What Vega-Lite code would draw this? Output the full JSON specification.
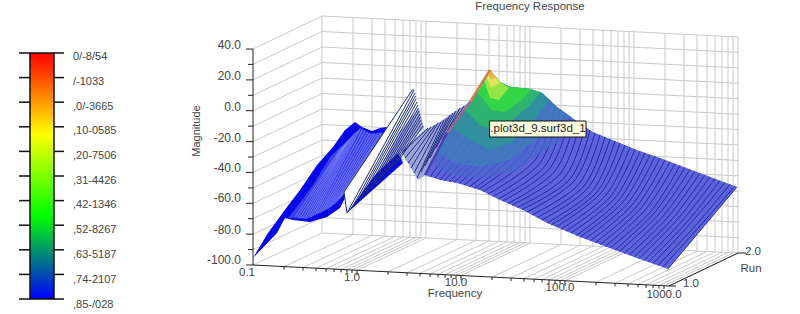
{"$schema":"https://vega.github.io/schema/vega-lite/v6.json","width":800,"height":314,"padding":0,"autosize":"none","background":"white","config":{"view":{"stroke":null}},
"datasets":{
"grid":[
{"x":322,"y":16,"x2":322,"y2":233},{"x":353,"y":17.6,"x2":353,"y2":234.5},{"x":372,"y":18.5,"x2":372,"y2":235.4},{"x":385,"y":19.2,"x2":385,"y2":236},{"x":395,"y":19.7,"x2":395,"y2":236.5},{"x":403,"y":20.1,"x2":403,"y2":236.9},{"x":410,"y":20.4,"x2":410,"y2":237.2},{"x":416,"y":20.7,"x2":416,"y2":237.5},{"x":421,"y":21,"x2":421,"y2":237.8},
{"x":426,"y":21.3,"x2":426,"y2":238},{"x":457,"y":22.8,"x2":457,"y2":239.5},{"x":476,"y":23.8,"x2":476,"y2":240.4},{"x":489,"y":24.4,"x2":489,"y2":241},{"x":499,"y":24.9,"x2":499,"y2":241.5},{"x":507,"y":25.3,"x2":507,"y2":241.9},{"x":514,"y":25.7,"x2":514,"y2":242.2},{"x":520,"y":26,"x2":520,"y2":242.5},{"x":525,"y":26.3,"x2":525,"y2":242.8},
{"x":530,"y":26.5,"x2":530,"y2":243},{"x":561,"y":28.1,"x2":561,"y2":244.5},{"x":580,"y":29,"x2":580,"y2":245.4},{"x":593,"y":29.7,"x2":593,"y2":246},{"x":603,"y":30.2,"x2":603,"y2":246.5},{"x":611,"y":30.6,"x2":611,"y2":246.9},{"x":618,"y":30.9,"x2":618,"y2":247.2},{"x":624,"y":31.3,"x2":624,"y2":247.5},{"x":629,"y":31.5,"x2":629,"y2":247.8},
{"x":634,"y":31.8,"x2":634,"y2":248},{"x":665,"y":33.3,"x2":665,"y2":249.5},{"x":684,"y":34.3,"x2":684,"y2":250.4},{"x":697,"y":34.9,"x2":697,"y2":251},{"x":707,"y":35.4,"x2":707,"y2":251.5},{"x":715,"y":35.8,"x2":715,"y2":251.9},{"x":722,"y":36.2,"x2":722,"y2":252.2},{"x":728,"y":36.5,"x2":728,"y2":252.5},{"x":733,"y":36.8,"x2":733,"y2":252.8},{"x":738,"y":37,"x2":738,"y2":253},
{"x":322,"y":16,"x2":738,"y2":37},{"x":322,"y":31.5,"x2":738,"y2":52.4},{"x":322,"y":47,"x2":738,"y2":67.9},{"x":322,"y":62.5,"x2":738,"y2":83.3},{"x":322,"y":78,"x2":738,"y2":98.7},{"x":322,"y":93.5,"x2":738,"y2":114.2},{"x":322,"y":109,"x2":738,"y2":129.6},{"x":322,"y":124.5,"x2":738,"y2":145},{"x":322,"y":140,"x2":738,"y2":160.4},{"x":322,"y":155.5,"x2":738,"y2":175.9},{"x":322,"y":171,"x2":738,"y2":191.3},{"x":322,"y":186.5,"x2":738,"y2":206.7},{"x":322,"y":202,"x2":738,"y2":222.1},{"x":322,"y":217.5,"x2":738,"y2":237.6},{"x":322,"y":233,"x2":738,"y2":253},
{"x":253,"y":49,"x2":322,"y2":16},{"x":253,"y":64.4,"x2":322,"y2":31.5},{"x":253,"y":79.9,"x2":322,"y2":47},{"x":253,"y":95.3,"x2":322,"y2":62.5},{"x":253,"y":110.7,"x2":322,"y2":78},{"x":253,"y":126.1,"x2":322,"y2":93.5},{"x":253,"y":141.6,"x2":322,"y2":109},{"x":253,"y":157,"x2":322,"y2":124.5},{"x":253,"y":172.4,"x2":322,"y2":140},{"x":253,"y":187.9,"x2":322,"y2":155.5},{"x":253,"y":203.3,"x2":322,"y2":171},{"x":253,"y":218.7,"x2":322,"y2":186.5},{"x":253,"y":234.1,"x2":322,"y2":202},{"x":253,"y":249.6,"x2":322,"y2":217.5},{"x":253,"y":265,"x2":322,"y2":233},
{"x":284,"y":266.6,"x2":353,"y2":234.5},{"x":303,"y":267.5,"x2":372,"y2":235.4},{"x":316,"y":268.2,"x2":385,"y2":236},{"x":326,"y":268.7,"x2":395,"y2":236.5},{"x":334,"y":269.1,"x2":403,"y2":236.9},{"x":341,"y":269.4,"x2":410,"y2":237.2},{"x":347,"y":269.7,"x2":416,"y2":237.5},{"x":352,"y":270,"x2":421,"y2":237.8},
{"x":357,"y":270.3,"x2":426,"y2":238},{"x":388,"y":271.8,"x2":457,"y2":239.5},{"x":407,"y":272.8,"x2":476,"y2":240.4},{"x":420,"y":273.4,"x2":489,"y2":241},{"x":430,"y":273.9,"x2":499,"y2":241.5},{"x":438,"y":274.3,"x2":507,"y2":241.9},{"x":445,"y":274.7,"x2":514,"y2":242.2},{"x":451,"y":275,"x2":520,"y2":242.5},{"x":456,"y":275.3,"x2":525,"y2":242.8},
{"x":461,"y":275.5,"x2":530,"y2":243},{"x":492,"y":277.1,"x2":561,"y2":244.5},{"x":511,"y":278,"x2":580,"y2":245.4},{"x":524,"y":278.7,"x2":593,"y2":246},{"x":534,"y":279.2,"x2":603,"y2":246.5},{"x":542,"y":279.6,"x2":611,"y2":246.9},{"x":549,"y":279.9,"x2":618,"y2":247.2},{"x":555,"y":280.3,"x2":624,"y2":247.5},{"x":560,"y":280.5,"x2":629,"y2":247.8},
{"x":565,"y":280.8,"x2":634,"y2":248},{"x":596,"y":282.3,"x2":665,"y2":249.5},{"x":615,"y":283.3,"x2":684,"y2":250.4},{"x":628,"y":283.9,"x2":697,"y2":251},{"x":638,"y":284.4,"x2":707,"y2":251.5},{"x":646,"y":284.8,"x2":715,"y2":251.9},{"x":653,"y":285.2,"x2":722,"y2":252.2},{"x":659,"y":285.5,"x2":728,"y2":252.5},{"x":664,"y":285.8,"x2":733,"y2":252.8},{"x":669,"y":286,"x2":738,"y2":253}
],
"ticks":[
{"x":253,"y":49,"x2":253,"y2":265},{"x":253,"y":265,"x2":669,"y2":286},{"x":669,"y":286,"x2":738,"y2":253},{"x":738,"y":253,"x2":746,"y2":253},{"x":669,"y":286,"x2":676,"y2":286},
{"x":246,"y":49,"x2":253,"y2":49},{"x":246,"y":79.9,"x2":253,"y2":79.9},{"x":246,"y":110.7,"x2":253,"y2":110.7},{"x":246,"y":141.6,"x2":253,"y2":141.6},{"x":246,"y":172.4,"x2":253,"y2":172.4},{"x":246,"y":203.3,"x2":253,"y2":203.3},{"x":246,"y":234.1,"x2":253,"y2":234.1},{"x":246,"y":265,"x2":253,"y2":265},
{"x":248,"y":64.4,"x2":253,"y2":64.4},{"x":248,"y":95.3,"x2":253,"y2":95.3},{"x":248,"y":126.1,"x2":253,"y2":126.1},{"x":248,"y":157,"x2":253,"y2":157},{"x":248,"y":187.9,"x2":253,"y2":187.9},{"x":248,"y":218.7,"x2":253,"y2":218.7},{"x":248,"y":249.6,"x2":253,"y2":249.6},
{"x":284,"y":266.6,"x2":284,"y2":269.6},{"x":303,"y":267.5,"x2":303,"y2":270.5},{"x":316,"y":268.2,"x2":316,"y2":271.2},{"x":326,"y":268.7,"x2":326,"y2":271.7},{"x":334,"y":269.1,"x2":334,"y2":272.1},{"x":341,"y":269.4,"x2":341,"y2":272.4},{"x":347,"y":269.7,"x2":347,"y2":272.7},{"x":352,"y":270,"x2":352,"y2":273},{"x":357,"y":270.3,"x2":357,"y2":275.3},
{"x":388,"y":271.8,"x2":388,"y2":274.8},{"x":407,"y":272.8,"x2":407,"y2":275.8},{"x":420,"y":273.4,"x2":420,"y2":276.4},{"x":430,"y":273.9,"x2":430,"y2":276.9},{"x":438,"y":274.3,"x2":438,"y2":277.3},{"x":445,"y":274.7,"x2":445,"y2":277.7},{"x":451,"y":275,"x2":451,"y2":278},{"x":456,"y":275.3,"x2":456,"y2":278.3},{"x":461,"y":275.5,"x2":461,"y2":280.5},
{"x":492,"y":277.1,"x2":492,"y2":280.1},{"x":511,"y":278,"x2":511,"y2":281},{"x":524,"y":278.7,"x2":524,"y2":281.7},{"x":534,"y":279.2,"x2":534,"y2":282.2},{"x":542,"y":279.6,"x2":542,"y2":282.6},{"x":549,"y":279.9,"x2":549,"y2":282.9},{"x":555,"y":280.3,"x2":555,"y2":283.3},{"x":560,"y":280.5,"x2":560,"y2":283.5},{"x":565,"y":280.8,"x2":565,"y2":285.8},
{"x":596,"y":282.3,"x2":596,"y2":285.3},{"x":615,"y":283.3,"x2":615,"y2":286.3},{"x":628,"y":283.9,"x2":628,"y2":286.9},{"x":638,"y":284.4,"x2":638,"y2":287.4},{"x":646,"y":284.8,"x2":646,"y2":287.8},{"x":653,"y":285.2,"x2":653,"y2":288.2},{"x":659,"y":285.5,"x2":659,"y2":288.5},{"x":664,"y":285.8,"x2":664,"y2":288.8}
],
"legendTicks":[
{"x":19,"x2":30,"y":53,"y2":53},{"x":54,"x2":64,"y":53,"y2":53},{"x":19,"x2":30,"y":77.6,"y2":77.6},{"x":54,"x2":64,"y":77.6,"y2":77.6},{"x":19,"x2":30,"y":102.2,"y2":102.2},{"x":54,"x2":64,"y":102.2,"y2":102.2},{"x":19,"x2":30,"y":126.8,"y2":126.8},{"x":54,"x2":64,"y":126.8,"y2":126.8},{"x":19,"x2":30,"y":151.4,"y2":151.4},{"x":54,"x2":64,"y":151.4,"y2":151.4},{"x":19,"x2":30,"y":176,"y2":176},{"x":54,"x2":64,"y":176,"y2":176},{"x":19,"x2":30,"y":200.6,"y2":200.6},{"x":54,"x2":64,"y":200.6,"y2":200.6},{"x":19,"x2":30,"y":225.2,"y2":225.2},{"x":54,"x2":64,"y":225.2,"y2":225.2},{"x":19,"x2":30,"y":249.8,"y2":249.8},{"x":54,"x2":64,"y":249.8,"y2":249.8},{"x":19,"x2":30,"y":274.4,"y2":274.4},{"x":54,"x2":64,"y":274.4,"y2":274.4},{"x":19,"x2":30,"y":299,"y2":299},{"x":54,"x2":64,"y":299,"y2":299}
],
"sheets":[
{"sheet":"A","i":0,"x":253,"y":258},{"sheet":"A","i":1,"x":268,"y":233},{"sheet":"A","i":2,"x":287,"y":207},{"sheet":"A","i":3,"x":300,"y":190},{"sheet":"A","i":4,"x":317,"y":165},{"sheet":"A","i":5,"x":333,"y":147},{"sheet":"A","i":6,"x":345,"y":130},{"sheet":"A","i":7,"x":355,"y":122},{"sheet":"A","i":8,"x":362,"y":127},{"sheet":"A","i":9,"x":372,"y":131},{"sheet":"A","i":10,"x":380,"y":128},{"sheet":"A","i":11,"x":387,"y":127},{"sheet":"A","i":12,"x":345,"y":198},{"sheet":"A","i":13,"x":340,"y":208},{"sheet":"A","i":14,"x":327,"y":217},{"sheet":"A","i":15,"x":310,"y":222},{"sheet":"A","i":16,"x":293,"y":220},{"sheet":"A","i":17,"x":285,"y":218},{"sheet":"A","i":18,"x":277,"y":233},
{"sheet":"A2","i":0,"x":288,"y":218},{"sheet":"A2","i":1,"x":307,"y":219},{"sheet":"A2","i":2,"x":330,"y":208},{"sheet":"A2","i":3,"x":343,"y":195},{"sheet":"A2","i":4,"x":383,"y":132},{"sheet":"A2","i":5,"x":372,"y":134},{"sheet":"A2","i":6,"x":360,"y":128},{"sheet":"A2","i":7,"x":350,"y":138},{"sheet":"A2","i":8,"x":330,"y":157},{"sheet":"A2","i":9,"x":313,"y":185},{"sheet":"A2","i":10,"x":300,"y":203},
{"sheet":"B","i":0,"x":344,"y":192},{"sheet":"B","i":1,"x":347,"y":213},{"sheet":"B","i":2,"x":403,"y":163},{"sheet":"B","i":3,"x":400,"y":150},{"sheet":"B","i":4,"x":424,"y":128},{"sheet":"B","i":5,"x":419,"y":108},{"sheet":"B","i":6,"x":413,"y":89},
{"sheet":"B2","i":0,"x":368,"y":190},{"sheet":"B2","i":1,"x":403,"y":163},{"sheet":"B2","i":2,"x":400,"y":150},{"sheet":"B2","i":3,"x":424,"y":128},{"sheet":"B2","i":4,"x":419,"y":108},{"sheet":"B2","i":5,"x":398,"y":134},
{"sheet":"W","i":0,"x":347,"y":213},{"sheet":"W","i":1,"x":403,"y":163},{"sheet":"W","i":2,"x":398,"y":153},{"sheet":"W","i":3,"x":375,"y":175},
{"sheet":"C","i":0,"x":400,"y":150},{"sheet":"C","i":1,"x":418,"y":180},{"sheet":"C","i":2,"x":425,"y":175},{"sheet":"C","i":3,"x":447,"y":133},{"sheet":"C","i":4,"x":470,"y":102},{"sheet":"C","i":5,"x":457,"y":110},{"sheet":"C","i":6,"x":438,"y":123},{"sheet":"C","i":7,"x":425,"y":130},
{"sheet":"R","i":0,"x":490,"y":70},{"sheet":"R","i":1,"x":500,"y":82},{"sheet":"R","i":2,"x":510,"y":87},{"sheet":"R","i":3,"x":530,"y":89},{"sheet":"R","i":4,"x":542,"y":93},{"sheet":"R","i":5,"x":557,"y":107},{"sheet":"R","i":6,"x":575,"y":120},{"sheet":"R","i":7,"x":593,"y":132},{"sheet":"R","i":8,"x":637,"y":150},{"sheet":"R","i":9,"x":660,"y":158},{"sheet":"R","i":10,"x":737,"y":187},{"sheet":"R","i":11,"x":668,"y":269},{"sheet":"R","i":12,"x":623,"y":253},{"sheet":"R","i":13,"x":580,"y":237},{"sheet":"R","i":14,"x":547,"y":223},{"sheet":"R","i":15,"x":523,"y":210},{"sheet":"R","i":16,"x":500,"y":200},{"sheet":"R","i":17,"x":480,"y":190},{"sheet":"R","i":18,"x":457,"y":183},{"sheet":"R","i":19,"x":440,"y":180},{"sheet":"R","i":20,"x":425,"y":175},{"sheet":"R","i":21,"x":447,"y":133},{"sheet":"R","i":22,"x":470,"y":102}
],
"bands":[
{"sheet":"L0","i":0,"x":430,"y":163},{"sheet":"L0","i":1,"x":455,"y":176},{"sheet":"L0","i":2,"x":480,"y":178},{"sheet":"L0","i":3,"x":515,"y":172},{"sheet":"L0","i":4,"x":545,"y":150},{"sheet":"L0","i":5,"x":575,"y":132},{"sheet":"L0","i":6,"x":585,"y":127},{"sheet":"L0","i":7,"x":575,"y":120},{"sheet":"L0","i":8,"x":557,"y":107},{"sheet":"L0","i":9,"x":542,"y":93},{"sheet":"L0","i":10,"x":530,"y":89},{"sheet":"L0","i":11,"x":510,"y":87},{"sheet":"L0","i":12,"x":500,"y":82},{"sheet":"L0","i":13,"x":490,"y":70},{"sheet":"L0","i":14,"x":470,"y":102},{"sheet":"L0","i":15,"x":447,"y":133},
{"sheet":"L1","i":0,"x":436,"y":152},{"sheet":"L1","i":1,"x":455,"y":163},{"sheet":"L1","i":2,"x":480,"y":167},{"sheet":"L1","i":3,"x":510,"y":160},{"sheet":"L1","i":4,"x":530,"y":145},{"sheet":"L1","i":5,"x":555,"y":125},{"sheet":"L1","i":6,"x":570,"y":116},{"sheet":"L1","i":7,"x":557,"y":107},{"sheet":"L1","i":8,"x":542,"y":93},{"sheet":"L1","i":9,"x":530,"y":89},{"sheet":"L1","i":10,"x":510,"y":87},{"sheet":"L1","i":11,"x":500,"y":82},{"sheet":"L1","i":12,"x":490,"y":70},{"sheet":"L1","i":13,"x":470,"y":102},{"sheet":"L1","i":14,"x":447,"y":133},
{"sheet":"L2","i":0,"x":452,"y":128},{"sheet":"L2","i":1,"x":470,"y":140},{"sheet":"L2","i":2,"x":490,"y":150},{"sheet":"L2","i":3,"x":510,"y":143},{"sheet":"L2","i":4,"x":530,"y":125},{"sheet":"L2","i":5,"x":550,"y":100},{"sheet":"L2","i":6,"x":542,"y":93},{"sheet":"L2","i":7,"x":530,"y":89},{"sheet":"L2","i":8,"x":510,"y":87},{"sheet":"L2","i":9,"x":500,"y":82},{"sheet":"L2","i":10,"x":490,"y":70},{"sheet":"L2","i":11,"x":470,"y":102},
{"sheet":"L3","i":0,"x":465,"y":110},{"sheet":"L3","i":1,"x":480,"y":125},{"sheet":"L3","i":2,"x":495,"y":130},{"sheet":"L3","i":3,"x":512,"y":120},{"sheet":"L3","i":4,"x":530,"y":105},{"sheet":"L3","i":5,"x":541,"y":92},{"sheet":"L3","i":6,"x":530,"y":89},{"sheet":"L3","i":7,"x":510,"y":87},{"sheet":"L3","i":8,"x":500,"y":82},{"sheet":"L3","i":9,"x":490,"y":70},
{"sheet":"L4","i":0,"x":477,"y":92},{"sheet":"L4","i":1,"x":492,"y":110},{"sheet":"L4","i":2,"x":505,"y":112},{"sheet":"L4","i":3,"x":522,"y":100},{"sheet":"L4","i":4,"x":532,"y":89},{"sheet":"L4","i":5,"x":510,"y":87},{"sheet":"L4","i":6,"x":500,"y":82},{"sheet":"L4","i":7,"x":490,"y":70},
{"sheet":"L5","i":0,"x":484,"y":80},{"sheet":"L5","i":1,"x":490,"y":98},{"sheet":"L5","i":2,"x":499,"y":100},{"sheet":"L5","i":3,"x":509,"y":88},{"sheet":"L5","i":4,"x":500,"y":82},{"sheet":"L5","i":5,"x":490,"y":70},
{"sheet":"L6","i":0,"x":486,"y":76},{"sheet":"L6","i":1,"x":491,"y":88},{"sheet":"L6","i":2,"x":500,"y":83},{"sheet":"L6","i":3,"x":490,"y":70},
{"sheet":"L7","i":0,"x":488,"y":73},{"sheet":"L7","i":1,"x":491,"y":80},{"sheet":"L7","i":2,"x":496,"y":77},{"sheet":"L7","i":3,"x":490,"y":70}
],
"strokesWhite":[
{"x":295,"y":217,"x2":341,"y2":148},{"x":297.5,"y":217.5,"x2":343.5,"y2":145.5},{"x":300,"y":218,"x2":346,"y2":143},{"x":302.5,"y":218,"x2":348,"y2":140.5},{"x":305,"y":218,"x2":350,"y2":138},{"x":307.5,"y":217.5,"x2":352.5,"y2":135.5},{"x":310,"y":217,"x2":355,"y2":133},{"x":312.5,"y":216,"x2":357.5,"y2":131},{"x":315,"y":215,"x2":360,"y2":129},{"x":317.5,"y":214,"x2":362.5,"y2":130},{"x":320,"y":213,"x2":365,"y2":131},{"x":322.5,"y":211.5,"x2":367.5,"y2":132},{"x":325,"y":210,"x2":370,"y2":133},{"x":327.5,"y":208.5,"x2":372.5,"y2":133},{"x":330,"y":207,"x2":375,"y2":133},{"x":332.5,"y":205.5,"x2":377.5,"y2":133},{"x":335,"y":204,"x2":380,"y2":133},{"x":337.5,"y":201.5,"x2":381.5,"y2":133},{"x":340,"y":199,"x2":383,"y2":133}
],
"strokesNavy":[
{"x":344,"y":192,"x2":413,"y2":89},{"x":344,"y":192,"x2":347,"y2":213},{"x":347,"y":213,"x2":414,"y2":90},{"x":352,"y":208,"x2":415,"y2":93},{"x":356,"y":204,"x2":415.5,"y2":96},{"x":360,"y":200,"x2":416,"y2":99},{"x":364,"y":196,"x2":417,"y2":102},{"x":368,"y":192,"x2":418,"y2":105},{"x":372,"y":188,"x2":418.5,"y2":108},{"x":376,"y":184,"x2":419,"y2":111},{"x":380,"y":180,"x2":420,"y2":114},{"x":384,"y":176,"x2":420.5,"y2":117},{"x":388,"y":172,"x2":421,"y2":120},{"x":392,"y":168,"x2":422,"y2":123},{"x":396,"y":164,"x2":423,"y2":126},
{"x":402,"y":153,"x2":428,"y2":128},{"x":405,"y":158,"x2":431,"y2":127},{"x":408,"y":163,"x2":435,"y2":125},{"x":411,"y":168,"x2":438,"y2":123},{"x":414,"y":173,"x2":441,"y2":122},{"x":417,"y":178,"x2":444,"y2":120},{"x":421,"y":172,"x2":447,"y2":118},{"x":425,"y":166,"x2":450,"y2":115},{"x":430,"y":158,"x2":453,"y2":113},{"x":436,"y":148,"x2":456,"y2":111},{"x":442,"y":140,"x2":460,"y2":108},{"x":448,"y":130,"x2":464,"y2":106}
],
"ridge":[
{"sheet":"a","i":0,"x":490,"y":70},{"sheet":"a","i":1,"x":470,"y":102},{"sheet":"b","i":0,"x":470,"y":102},{"sheet":"b","i":1,"x":447,"y":133},{"sheet":"c","i":0,"x":447,"y":133},{"sheet":"c","i":1,"x":425,"y":175}
],
"ribs":[
{"k":1,"i":0,"x":495,"y":76},{"k":1,"i":1,"x":464,"y":127},{"k":1,"i":2,"x":430,"y":177},
{"k":2,"i":0,"x":500,"y":82},{"k":2,"i":1,"x":470,"y":132},{"k":2,"i":2,"x":435,"y":178},
{"k":3,"i":0,"x":505,"y":84.5},{"k":3,"i":1,"x":476,"y":135},{"k":3,"i":2,"x":440,"y":180},
{"k":4,"i":0,"x":510,"y":87},{"k":4,"i":1,"x":482,"y":137},{"k":4,"i":2,"x":444,"y":181},
{"k":5,"i":0,"x":515,"y":87.5},{"k":5,"i":1,"x":488,"y":139},{"k":5,"i":2,"x":449,"y":182},
{"k":6,"i":0,"x":520,"y":88},{"k":6,"i":1,"x":494,"y":140},{"k":6,"i":2,"x":454,"y":182.5},
{"k":7,"i":0,"x":525,"y":88.5},{"k":7,"i":1,"x":500,"y":142},{"k":7,"i":2,"x":459,"y":183.5},
{"k":8,"i":0,"x":530,"y":89},{"k":8,"i":1,"x":507,"y":144},{"k":8,"i":2,"x":464,"y":185},
{"k":9,"i":0,"x":535,"y":90.7},{"k":9,"i":1,"x":513,"y":147},{"k":9,"i":2,"x":469,"y":187},
{"k":10,"i":0,"x":540,"y":92.3},{"k":10,"i":1,"x":519,"y":149},{"k":10,"i":2,"x":474,"y":188.5},
{"k":11,"i":0,"x":545,"y":95.8},{"k":11,"i":1,"x":525,"y":152},{"k":11,"i":2,"x":478,"y":189.5},
{"k":12,"i":0,"x":550,"y":100.5},{"k":12,"i":1,"x":530,"y":156},{"k":12,"i":2,"x":483,"y":191.5},
{"k":13,"i":0,"x":555,"y":105.1},{"k":13,"i":1,"x":536,"y":159},{"k":13,"i":2,"x":488,"y":194},
{"k":14,"i":0,"x":560,"y":109.2},{"k":14,"i":1,"x":540,"y":163},{"k":14,"i":2,"x":493,"y":196.5},
{"k":15,"i":0,"x":565,"y":112.8},{"k":15,"i":1,"x":545,"y":166},{"k":15,"i":2,"x":498,"y":199},
{"k":16,"i":0,"x":570,"y":116.4},{"k":16,"i":1,"x":550,"y":168},{"k":16,"i":2,"x":503,"y":201},
{"k":17,"i":0,"x":575,"y":120},{"k":17,"i":1,"x":555,"y":171},{"k":17,"i":2,"x":508,"y":203.5},
{"k":18,"i":0,"x":580,"y":123.3},{"k":18,"i":1,"x":560,"y":174},{"k":18,"i":2,"x":512,"y":205},
{"k":19,"i":0,"x":585,"y":126.7},{"k":19,"i":1,"x":565,"y":177},{"k":19,"i":2,"x":517,"y":207.5},
{"k":20,"i":0,"x":590,"y":130},{"k":20,"i":1,"x":570,"y":179},{"k":20,"i":2,"x":522,"y":209.5},
{"k":21,"i":0,"x":595,"y":132.8},{"k":21,"i":1,"x":574,"y":181},{"k":21,"i":2,"x":527,"y":212},
{"k":22,"i":0,"x":600,"y":134.9},{"k":22,"i":1,"x":579,"y":184},{"k":22,"i":2,"x":532,"y":215},
{"k":23,"i":0,"x":605,"y":136.9},{"k":23,"i":1,"x":584,"y":186},{"k":23,"i":2,"x":537,"y":217.5},
{"k":24,"i":0,"x":610,"y":139},{"k":24,"i":1,"x":588,"y":188},{"k":24,"i":2,"x":542,"y":220},
{"k":25,"i":0,"x":615,"y":141},{"k":25,"i":1,"x":593,"y":190},{"k":25,"i":2,"x":547,"y":223},
{"k":26,"i":0,"x":620,"y":143},{"k":26,"i":1,"x":597,"y":192},{"k":26,"i":2,"x":551,"y":225},
{"k":27,"i":0,"x":625,"y":145},{"k":27,"i":1,"x":601,"y":193},{"k":27,"i":2,"x":556,"y":227},
{"k":28,"i":0,"x":630,"y":147.1},{"k":28,"i":1,"x":606,"y":195},{"k":28,"i":2,"x":561,"y":229},
{"k":29,"i":0,"x":635,"y":149.2},{"k":29,"i":1,"x":610,"y":197},{"k":29,"i":2,"x":566,"y":231},
{"k":30,"i":0,"x":640,"y":151},{"k":30,"i":1,"x":615,"y":198},{"k":30,"i":2,"x":571,"y":233},
{"k":31,"i":0,"x":645,"y":152.8},{"k":31,"i":1,"x":619,"y":200},{"k":31,"i":2,"x":576,"y":235.5},
{"k":32,"i":0,"x":650,"y":154.5},{"k":32,"i":1,"x":623,"y":202},{"k":32,"i":2,"x":580,"y":237},
{"k":33,"i":0,"x":655,"y":156.3},{"k":33,"i":1,"x":628,"y":203},{"k":33,"i":2,"x":585,"y":239},
{"k":34,"i":0,"x":660,"y":158},{"k":34,"i":1,"x":632,"y":205},{"k":34,"i":2,"x":590,"y":241},
{"k":35,"i":0,"x":665,"y":159.9},{"k":35,"i":1,"x":637,"y":206},{"k":35,"i":2,"x":595,"y":243},
{"k":36,"i":0,"x":670,"y":161.8},{"k":36,"i":1,"x":641,"y":208},{"k":36,"i":2,"x":600,"y":244.5},
{"k":37,"i":0,"x":675,"y":163.6},{"k":37,"i":1,"x":646,"y":209},{"k":37,"i":2,"x":605,"y":246.5},
{"k":38,"i":0,"x":680,"y":165.5},{"k":38,"i":1,"x":651,"y":211},{"k":38,"i":2,"x":610,"y":248},
{"k":39,"i":0,"x":685,"y":167.4},{"k":39,"i":1,"x":655,"y":212},{"k":39,"i":2,"x":615,"y":250},
{"k":40,"i":0,"x":690,"y":169.3},{"k":40,"i":1,"x":659,"y":214},{"k":40,"i":2,"x":619,"y":251.5},
{"k":41,"i":0,"x":695,"y":171.2},{"k":41,"i":1,"x":664,"y":215},{"k":41,"i":2,"x":624,"y":253.5},
{"k":42,"i":0,"x":700,"y":173.1},{"k":42,"i":1,"x":668,"y":217},{"k":42,"i":2,"x":629,"y":255},
{"k":43,"i":0,"x":705,"y":175},{"k":43,"i":1,"x":673,"y":218},{"k":43,"i":2,"x":634,"y":257},
{"k":44,"i":0,"x":710,"y":176.8},{"k":44,"i":1,"x":677,"y":220},{"k":44,"i":2,"x":639,"y":258.5},
{"k":45,"i":0,"x":715,"y":178.7},{"k":45,"i":1,"x":682,"y":221},{"k":45,"i":2,"x":644,"y":260.5},
{"k":46,"i":0,"x":720,"y":180.6},{"k":46,"i":1,"x":686,"y":223},{"k":46,"i":2,"x":648,"y":262},
{"k":47,"i":0,"x":725,"y":182.5},{"k":47,"i":1,"x":690,"y":224},{"k":47,"i":2,"x":653,"y":263.5},
{"k":48,"i":0,"x":730,"y":184.4},{"k":48,"i":1,"x":695,"y":226},{"k":48,"i":2,"x":658,"y":265.5},
{"k":49,"i":0,"x":735,"y":186.2},{"k":49,"i":1,"x":699,"y":227},{"k":49,"i":2,"x":663,"y":267},
{"k":50,"i":0,"x":737,"y":187},{"k":50,"i":1,"x":702.5,"y":228},{"k":50,"i":2,"x":668,"y":269}
],
"legendLabels":[
{"x":73,"y":57,"t":"0/-8/54"},{"x":73,"y":82,"t":"/-1033"},{"x":73,"y":107,"t":",0/-3665"},{"x":73,"y":131,"t":",10-0585"},{"x":73,"y":156,"t":",20-7506"},{"x":73,"y":181,"t":",31-4426"},{"x":73,"y":205,"t":",42-1346"},{"x":73,"y":230,"t":",52-8267"},{"x":73,"y":255,"t":",63-5187"},{"x":73,"y":280,"t":",74-2107"},{"x":73,"y":305,"t":",85-/028"}
],
"magLabels":[
{"x":241,"y":45,"t":"40.0"},{"x":241,"y":76,"t":"20.0"},{"x":241,"y":107,"t":"0.0"},{"x":241,"y":138,"t":"-20.0"},{"x":241,"y":168,"t":"-40.0"},{"x":241,"y":198,"t":"-60.0"},{"x":241,"y":230,"t":"-80.0"},{"x":241,"y":260,"t":"-100.0"}
],
"centerLabels":[
{"x":530,"y":6.5,"t":"Frequency Response"},{"x":247,"y":273,"t":"0.1"},{"x":352,"y":278,"t":"1.0"},{"x":456,"y":282.5,"t":"10.0"},{"x":560,"y":288,"t":"100.0"},{"x":664,"y":295,"t":"1000.0"},{"x":691,"y":284,"t":"1.0"},{"x":753,"y":252,"t":"2.0"},{"x":751,"y":269,"t":"Run"},{"x":455,"y":294,"t":"Frequency"}
]
},
"encoding":{
"x":{"field":"x","type":"quantitative","scale":{"domain":[0,800],"nice":false,"zero":false},"axis":null},
"y":{"field":"y","type":"quantitative","scale":{"domain":[314,0],"nice":false,"zero":false},"axis":null}
},
"layer":[
{"data":{"name":"grid"},"mark":{"type":"rule","color":"#c9c9c9","strokeWidth":1},"encoding":{"x2":{"field":"x2"},"y2":{"field":"y2"}}},
{"data":{"name":"ticks"},"mark":{"type":"rule","color":"#222222","strokeWidth":1},"encoding":{"x2":{"field":"x2"},"y2":{"field":"y2"}}},
{"data":{"values":[{"x":30,"x2":54,"y":53,"y2":299}]},"mark":{"type":"rect","stroke":"#111111","strokeWidth":1.5,"fill":{"x1":0,"y1":0,"x2":0,"y2":1,"gradient":"linear","stops":[{"offset":0,"color":"#ff0000"},{"offset":0.33,"color":"#ffff00"},{"offset":0.66,"color":"#00ff00"},{"offset":1,"color":"#0000ff"}]}},"encoding":{"x2":{"field":"x2"},"y2":{"field":"y2"}}},
{"data":{"name":"legendTicks"},"mark":{"type":"rule","color":"#111111","strokeWidth":1.5},"encoding":{"x2":{"field":"x2"},"y2":{"field":"y2"}}},
{"data":{"name":"sheets"},"mark":{"type":"line","filled":true,"strokeWidth":0},"encoding":{"order":{"field":"i","type":"quantitative"},"color":{"field":"sheet","type":"nominal","legend":null,"scale":{"domain":["A","A2","B","B2","W","C","R","L0","L1","L2","L3","L4","L5","L6","L7","a","b","c"],"range":["#0606e6","#3a40ee","#ffffff","#a8aedf","#0a0ae0","#9ca4da","#5d64da","#4a66cc","#3f7eb8","#2a9a90","#2fc060","#35e035","#b8ec4a","#f8e860","#f0a040","#c88050","#9a6a8a","#4a3fb0"]}}}},
{"data":{"name":"strokesWhite"},"mark":{"type":"rule","color":"#ffffff","strokeWidth":0.8,"opacity":0.35},"encoding":{"x2":{"field":"x2"},"y2":{"field":"y2"}}},
{"data":{"name":"strokesNavy"},"mark":{"type":"rule","color":"#1c2a80","strokeWidth":1},"encoding":{"x2":{"field":"x2"},"y2":{"field":"y2"}}},
{"data":{"name":"ribs"},"mark":{"type":"line","color":"#14149a","strokeWidth":1,"opacity":0.8,"interpolate":"cardinal"},"encoding":{"detail":{"field":"k"},"order":{"field":"i","type":"quantitative"}}},
{"data":{"name":"bands"},"mark":{"type":"line","filled":true,"strokeWidth":0,"opacity":0.72},"encoding":{"order":{"field":"i","type":"quantitative"},"color":{"field":"sheet","type":"nominal","legend":null,"scale":{"domain":["A","A2","B","B2","W","C","R","L0","L1","L2","L3","L4","L5","L6","L7","a","b","c"],"range":["#0606e6","#3a40ee","#ffffff","#a8aedf","#0a0ae0","#9ca4da","#5d64da","#4a66cc","#3f7eb8","#2a9a90","#2fc060","#35e035","#b8ec4a","#f8e860","#f0a040","#c88050","#9a6a8a","#4a3fb0"]}}}},
{"data":{"name":"ridge"},"mark":{"type":"line","strokeWidth":2.5},"encoding":{"order":{"field":"i","type":"quantitative"},"color":{"field":"sheet","type":"nominal","legend":null,"scale":{"domain":["A","A2","B","B2","W","C","R","L0","L1","L2","L3","L4","L5","L6","L7","a","b","c"],"range":["#0606e6","#3a40ee","#ffffff","#a8aedf","#0a0ae0","#9ca4da","#5d64da","#4a66cc","#3f7eb8","#2a9a90","#2fc060","#35e035","#b8ec4a","#f8e860","#f0a040","#c88050","#9a6a8a","#4a3fb0"]}}}},
{"data":{"values":[{"x":489.5,"x2":586,"y":121,"y2":137}]},"mark":{"type":"rect","fill":"#ffffe1","stroke":"#111111","strokeWidth":1},"encoding":{"x2":{"field":"x2"},"y2":{"field":"y2"}}},
{"data":{"values":[{"x":538,"y":129,"t":".plot3d_9.surf3d_1"}]},"mark":{"type":"text","font":"Liberation Sans","fontSize":11.5,"color":"#222222","align":"center","baseline":"middle"},"encoding":{"text":{"field":"t"}}},
{"data":{"name":"legendLabels"},"mark":{"type":"text","font":"Liberation Sans","fontSize":11,"color":"#444444","align":"left","baseline":"middle"},"encoding":{"text":{"field":"t"}}},
{"data":{"name":"magLabels"},"mark":{"type":"text","font":"Liberation Sans","fontSize":12,"color":"#444444","align":"right","baseline":"middle"},"encoding":{"text":{"field":"t"}}},
{"data":{"name":"centerLabels"},"mark":{"type":"text","font":"Liberation Sans","fontSize":11.5,"color":"#444444","align":"center","baseline":"middle"},"encoding":{"text":{"field":"t"}}},
{"data":{"values":[{"x":197,"y":131,"t":"Magnitude"}]},"mark":{"type":"text","font":"Liberation Sans","fontSize":11,"color":"#444444","align":"center","baseline":"middle","angle":270},"encoding":{"text":{"field":"t"}}}
]}
